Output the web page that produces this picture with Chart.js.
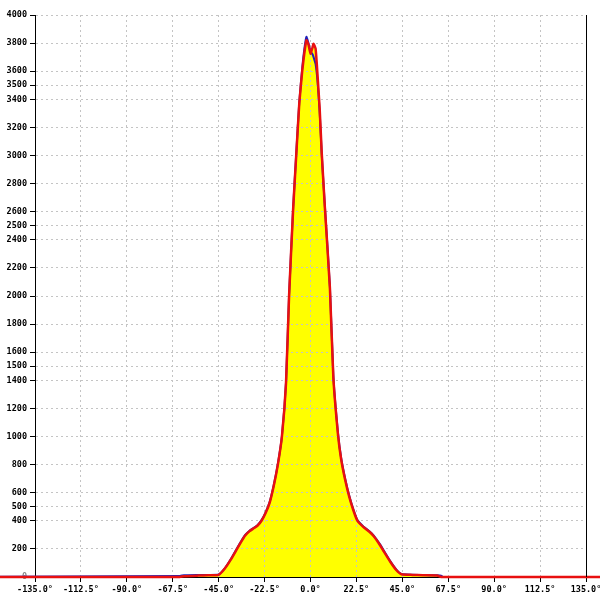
<!DOCTYPE html>
<html>
<head>
<meta charset="utf-8">
<script src="https://cdn.jsdelivr.net/npm/chart.js@4/dist/chart.umd.min.js"></script>
<style>
  html, body { margin: 0; padding: 0; background: #fff; }
  canvas { display: block; background: #fff; }
</style>
</head>
<body>
<canvas id="chart" width="600" height="600"></canvas>
<script>
// angles in degrees, counts
const angles = [-180, -64, -62, -55, -50, -45, -42, -39, -36, -34, -32, -30, -28, -26, -24, -22, -20, -18, -16, -14, -12, -10.5, -8.5, -7, -5.5, -4, -3, -2, -1, 0, 1, 1.5, 2.5, 3.5, 4.5, 5.5, 7, 9.5, 11.2, 13.5, 15, 17, 19, 21, 23, 26, 29, 31, 34, 36, 39, 42, 44.5, 50, 55, 62, 64, 65, 180];
const redCounts = [0, 0, 6, 10, 12, 15, 60, 125, 200, 250, 295, 325, 345, 365, 400, 455, 530, 650, 800, 1000, 1380, 2000, 2620, 3000, 3370, 3610, 3730, 3820, 3790, 3725, 3770, 3795, 3760, 3560, 3330, 3020, 2640, 2060, 1420, 1010, 840, 690, 570, 475, 400, 355, 320, 290, 228, 180, 110, 50, 20, 15, 12, 10, 0, 0, 0];
const blueCounts = [0, 8, 12, 14, 15, 18, 62, 128, 205, 255, 300, 328, 348, 368, 405, 460, 535, 655, 805, 1005, 1385, 2005, 2630, 3010, 3380, 3630, 3760, 3845, 3800, 3740, 3720, 3700, 3650, 3520, 3310, 3010, 2650, 2070, 1430, 1020, 850, 700, 578, 482, 405, 358, 324, 295, 234, 186, 115, 54, 22, 16, 14, 12, 10, 0, 0];
const xTicks = [-135, -112.5, -90, -67.5, -45, -22.5, 0, 22.5, 45, 67.5, 90, 112.5, 135];
const yTicks = [0, 200, 400, 500, 600, 800, 1000, 1200, 1400, 1500, 1600, 1800, 2000, 2200, 2400, 2500, 2600, 2800, 3000, 3200, 3400, 3500, 3600, 3800, 4000];

const tickFont = { family: "'DejaVu Sans Mono', monospace", size: 8.5, weight: 'bold' };

function toPoints(values) {
    return angles.map((a, i) => ({ x: a, y: values[i] }));
}

// solid black line on the right edge of the plot
const rightBorder = {
    id: 'rightBorder',
    afterDraw(chart) {
        const { ctx, chartArea } = chart;
        ctx.save();
        ctx.strokeStyle = '#000';
        ctx.lineWidth = 1;
        ctx.beginPath();
        ctx.moveTo(Math.round(chartArea.right) + 0.5, chartArea.top);
        ctx.lineTo(Math.round(chartArea.right) + 0.5, chartArea.bottom);
        ctx.stroke();
        ctx.restore();
    }
};

new Chart(document.getElementById('chart'), {
    type: 'line',
    data: {
        datasets: [
            {
                label: 'red',
                data: toPoints(redCounts),
                borderColor: '#e81010',
                borderWidth: 2.5,
                backgroundColor: '#ffff00',
                fill: 'origin',
                pointRadius: 0,
                tension: 0.15,
                clip: false
            },
            {
                label: 'blue',
                data: toPoints(blueCounts),
                borderColor: '#2020b8',
                borderWidth: 2,
                fill: false,
                pointRadius: 0,
                tension: 0.15,
                clip: false
            }
        ]
    },
    options: {
        responsive: false,
        animation: false,
        layout: { padding: { top: 15, right: 14, left: 0, bottom: 0 } },
        plugins: {
            legend: { display: false },
            tooltip: { enabled: false },
            filler: { drawTime: 'beforeDraw' }
        },
        scales: {
            x: {
                type: 'linear',
                min: -135,
                max: 135,
                afterBuildTicks: (scale) => { scale.ticks = xTicks.map(v => ({ value: v })); },
                afterFit: (scale) => {
                    scale.height = 23;
                    scale.paddingLeft = 0;
                    scale.paddingRight = 0;
                },
                ticks: {
                    autoSkip: false,
                    maxRotation: 0,
                    padding: 3,
                    color: '#000',
                    font: tickFont,
                    callback: (v) => v.toFixed(1) + '°'
                },
                grid: {
                    color: '#c4c4c4',
                    lineWidth: 1,
                    tickColor: '#000',
                    tickLength: 5,
                    tickBorderDash: []
                },
                border: { color: '#000', width: 1, dash: [2, 3] }
            },
            y: {
                min: 0,
                max: 4000,
                afterBuildTicks: (scale) => { scale.ticks = yTicks.map(v => ({ value: v })); },
                afterFit: (scale) => { scale.width = 35; },
                ticks: {
                    autoSkip: false,
                    padding: 3,
                    color: (c) => c.tick && c.tick.value === 0 ? '#888' : '#000',
                    font: tickFont,
                    callback: (v) => String(v)
                },
                grid: {
                    color: '#c4c4c4',
                    lineWidth: 1,
                    tickColor: '#000',
                    tickLength: 5,
                    tickBorderDash: []
                },
                border: { color: '#000', width: 1, dash: [2, 3] }
            }
        }
    },
    plugins: [rightBorder]
});
</script>
</body>
</html>
